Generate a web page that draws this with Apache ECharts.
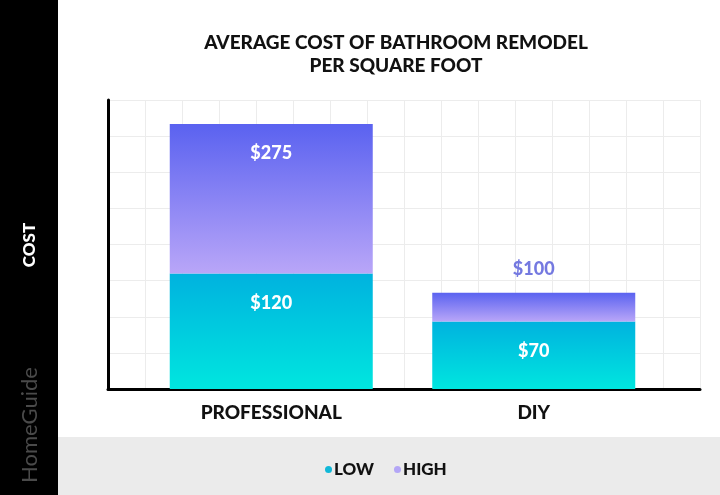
<!DOCTYPE html><html><head><meta charset="utf-8">
<script src="https://cdn.jsdelivr.net/npm/echarts@6/dist/echarts.min.js"></script>
<style>html,body{margin:0;padding:0;background:#fff}#c{width:720px;height:495px}</style></head><body><div id="c"></div>
<script>
const categories = ['PROFESSIONAL', 'DIY'];
const lowValues = [120, 70];
const highValues = [275, 100];
const seriesNames = ['LOW', 'HIGH'];

const highSegments = highValues.map((v, i) => v - lowValues[i]);
const chart = echarts.init(document.getElementById('c'));
const lowGrad = new echarts.graphic.LinearGradient(0,0,0,1,[{offset:0,color:'#00b2df'},{offset:1,color:'#00e6df'}]);
const highGrad = new echarts.graphic.LinearGradient(0,0,0,1,[{offset:0,color:'#5a62f0'},{offset:1,color:'#b9a6f8'}]);
const F = 'Lato, "Open Sans", sans-serif';
chart.setOption({
  backgroundColor:'#fff',
  animation:false,
  title:{text:'AVERAGE COST OF BATHROOM REMODEL\nPER SQUARE FOOT',left:391,textAlign:'center',top:26,
    textStyle:{fontFamily:F,fontSize:19,fontWeight:900,color:'#111',lineHeight:23}},
  graphic:[
    {type:'rect',shape:{x:0,y:0,width:58,height:495},style:{fill:'#000'},z:-1},
    {type:'rect',shape:{x:58,y:437,width:662,height:58},style:{fill:'#ebebeb'},z:-1},
    {type:'text',x:30,y:245,rotation:Math.PI/2,style:{text:'COST',fill:'#fff',font:'900 17px '+F,align:'center',verticalAlign:'middle'}},
    {type:'text',x:30,y:425,rotation:Math.PI/2,style:{text:'HomeGuide',fill:'#4a4a4a',font:'22px '+F,align:'center',verticalAlign:'middle'}}
  ],
  legend:{data:[{name:'LOW',itemStyle:{color:'#11b8d8'}},{name:'HIGH',itemStyle:{color:'#b3a6f6'}}],left:320,top:456,icon:'circle',itemWidth:7,itemHeight:7,itemGap:20,
    textStyle:{fontFamily:F,fontSize:17,fontWeight:900,color:'#111',padding:[0,0,0,-3]}},
  grid:[
    {left:108,right:20,top:100,bottom:106},
    {left:140,width:525,top:100,bottom:106}
  ],
  xAxis:[
    {gridIndex:0,type:'value',min:0,max:16,interval:1,axisLine:{show:true,onZero:false,lineStyle:{color:'#000',width:3}},
     axisTick:{show:false},axisLabel:{show:false},splitLine:{show:true,lineStyle:{color:'#ececec'}}},
    {gridIndex:1,type:'category',data:categories,axisLine:{show:false},axisTick:{show:false},
     axisLabel:{margin:14,fontFamily:F,fontSize:19,fontWeight:900,color:'#111'}}
  ],
  yAxis:[
    {gridIndex:0,type:'value',min:0,max:300,interval:37.5,axisLine:{show:true,lineStyle:{color:'#000',width:3}},
     axisTick:{show:false},axisLabel:{show:false},splitLine:{show:true,lineStyle:{color:'#ececec'}}},
    {gridIndex:1,type:'value',min:0,max:300,show:false,splitLine:{show:false}}
  ],
  series:[
    {name:'LOW',type:'bar',stack:'a',xAxisIndex:1,yAxisIndex:1,barWidth:203,data:lowValues,
     itemStyle:{color:lowGrad},
     label:{show:true,position:'insideTop',distance:21,formatter:'${c}',color:'#fff',fontFamily:F,fontSize:18,fontWeight:900}},
    {name:'HIGH',type:'bar',stack:'a',xAxisIndex:1,yAxisIndex:1,barWidth:203,
     data:highSegments.map((v,i)=>({value:v,label:i===0?{position:'insideTop',distance:20,color:'#fff'}:{position:'top',distance:14,color:'#7479e0'}})),
     itemStyle:{color:highGrad},
     label:{show:true,formatter:p=>'$'+highValues[p.dataIndex],fontFamily:F,fontSize:18,fontWeight:900}}
  ]
});
</script></body></html>
